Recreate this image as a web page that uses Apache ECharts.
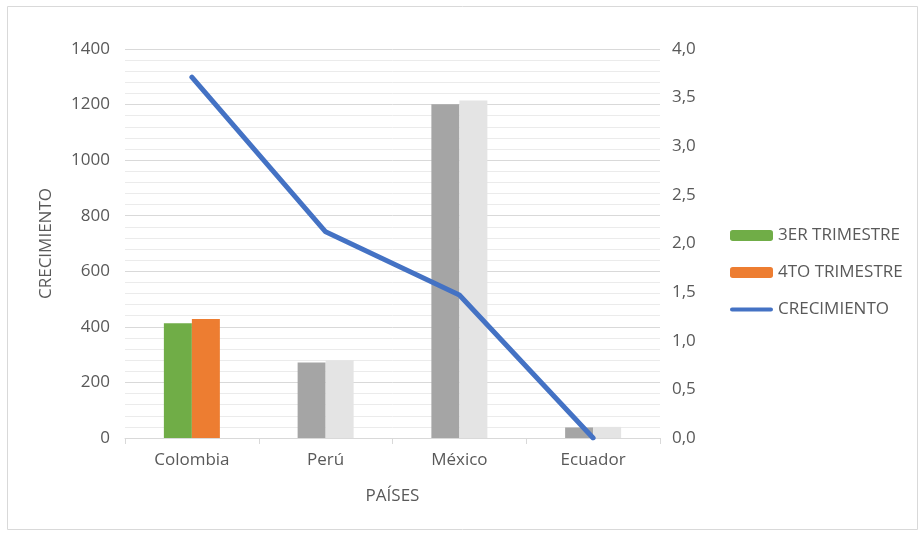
<!DOCTYPE html>
<html>
<head>
<meta charset="utf-8">
<script src="https://cdn.jsdelivr.net/npm/echarts@6/dist/echarts.min.js"></script>
<style>
  html, body { margin: 0; padding: 0; background: #ffffff; }
  #chart { width: 920px; height: 534px; }
</style>
</head>
<body>
<div id="chart"></div>
<script>
// Countries on the category axis
const paises = ['Colombia', 'Perú', 'México', 'Ecuador'];
// Quarterly values (left axis)
const trimestre3 = [413, 272, 1201, 38];
const trimestre4 = [428, 280, 1215, 40];
// Growth line (right axis)
const crecimiento = [3.71, 2.12, 1.47, 0.0];

// Only the first country is highlighted in colour, the rest are grey
const colores3 = ['#70ad47', '#a5a5a5', '#a5a5a5', '#a5a5a5'];
const colores4 = ['#ed7d31', '#e4e4e4', '#e4e4e4', '#e4e4e4'];

const font = '"Open Sans", "Liberation Sans", sans-serif';
const textGrey = '#595959';
const fs = 17;

const chart = echarts.init(document.getElementById('chart'), null, { renderer: 'canvas' });

chart.setOption({
  animation: false,
  textStyle: { fontFamily: font },
  graphic: [{
    type: 'rect',
    shape: { x: 7.5, y: 6.5, width: 910, height: 523 },
    style: { fill: 'none', stroke: '#d9d9d9', lineWidth: 1 },
    silent: true
  }],
  grid: { left: 125, right: 260, top: 49, bottom: 96 },
  legend: {
    orient: 'vertical',
    left: 725,
    top: 222,
    itemGap: 20,
    itemWidth: 43,
    itemHeight: 11,
    textStyle: { color: textGrey, fontSize: fs, fontFamily: font },
    data: [
      { name: '3ER TRIMESTRE', itemStyle: { color: '#70ad47' } },
      { name: '4TO TRIMESTRE', itemStyle: { color: '#ed7d31' } },
      { name: 'CRECIMIENTO', icon: 'path://M2,0 L40,0 A2,2 0 0 1 40,4 L2,4 A2,2 0 0 1 2,0 Z', itemStyle: { color: '#4472c4' } }
    ]
  },
  xAxis: {
    type: 'category',
    data: paises,
    name: 'PAÍSES',
    nameLocation: 'middle',
    nameGap: 50,
    nameTextStyle: { color: textGrey, fontSize: fs },
    axisLine: { lineStyle: { color: '#d9d9d9', width: 1 } },
    axisTick: { show: true, alignWithLabel: false, length: 6, lineStyle: { color: '#d9d9d9' } },
    axisLabel: { color: textGrey, fontSize: fs, margin: 14 }
  },
  yAxis: [
    {
      type: 'value',
      min: 0, max: 1400, interval: 200,
      name: 'CRECIMIENTO',
      nameLocation: 'middle',
      nameGap: 70,
      nameRotate: 90,
      nameTextStyle: { color: textGrey, fontSize: fs },
      axisLine: { show: false },
      axisTick: { show: false },
      axisLabel: { color: textGrey, fontSize: fs, margin: 15, formatter: v => String(v) },
      splitLine: { show: true, lineStyle: { color: '#d9d9d9', width: 1 } },
      minorTick: { show: false, splitNumber: 5 },
      minorSplitLine: { show: true, lineStyle: { color: '#ebebeb', width: 1 } }
    },
    {
      type: 'value',
      min: 0, max: 4, interval: 0.5,
      position: 'right',
      axisLine: { show: false },
      axisTick: { show: false },
      splitLine: { show: false },
      axisLabel: {
        color: textGrey, fontSize: fs, margin: 12,
        formatter: v => v.toFixed(1).replace('.', ',')
      }
    }
  ],
  series: [
    {
      name: '3ER TRIMESTRE',
      type: 'bar',
      yAxisIndex: 0,
      barWidth: 28,
      barGap: '0%',
      itemStyle: { color: '#70ad47' },
      data: trimestre3.map((v, i) => ({ value: v, itemStyle: { color: colores3[i] } }))
    },
    {
      name: '4TO TRIMESTRE',
      type: 'bar',
      yAxisIndex: 0,
      barWidth: 28,
      barGap: '0%',
      itemStyle: { color: '#ed7d31' },
      data: trimestre4.map((v, i) => ({ value: v, itemStyle: { color: colores4[i] } }))
    },
    {
      name: 'CRECIMIENTO',
      type: 'line',
      yAxisIndex: 1,
      data: crecimiento,
      symbol: 'none',
      lineStyle: { color: '#4472c4', width: 5, cap: 'round', join: 'round' },
      itemStyle: { color: '#4472c4' }
    }
  ]
});
</script>
</body>
</html>
